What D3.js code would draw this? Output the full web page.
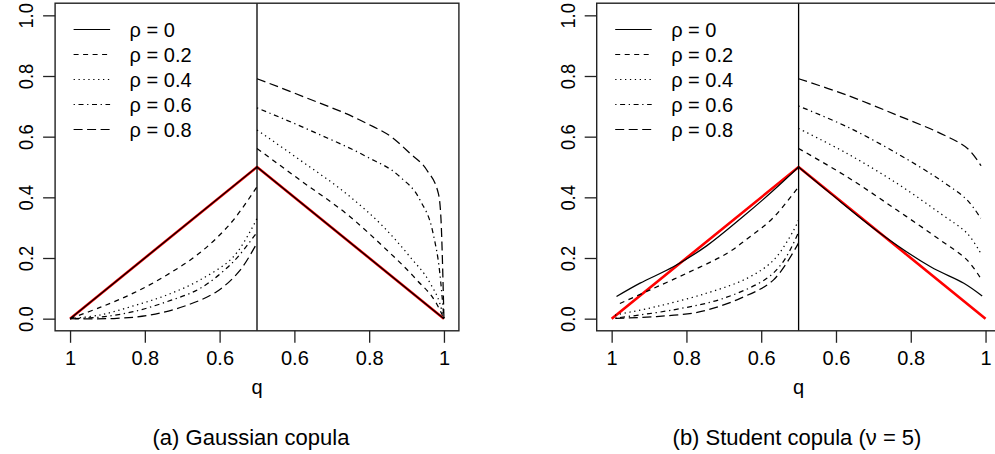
<!DOCTYPE html>
<html>
<head>
<meta charset="utf-8">
<script src="https://cdn.jsdelivr.net/npm/d3@7"></script>
<style>
html,body{margin:0;padding:0;background:#fff;}
svg{display:block;}
text{font-family:"Liberation Sans",Arial,Helvetica,sans-serif;fill:#000;}
</style>
</head>
<body>
<svg id="chart" width="995" height="454"></svg>
<script>
// ---------- data ----------
const rhoLabels = ["ρ = 0", "ρ = 0.2", "ρ = 0.4", "ρ = 0.6", "ρ = 0.8"];
const yTicks = [0, 0.2, 0.4, 0.6, 0.8, 1.0];
const yTickLabels = ["0.0", "0.2", "0.4", "0.6", "0.8", "1.0"];
const xTicks = [0, 0.2, 0.4, 0.6, 0.8, 1.0];
const xTickLabels = ["1", "0.8", "0.6", "0.6", "0.8", "1"];
const captions = ["(a) Gaussian copula", "(b) Student copula (ν = 5)"];

// independence reference (red)
const indep = [[0, 0], [0.5, 0.5], [1, 0]];

// Gaussian copula, left half (position t in [0,0.5])
const gaussL0  = [[0, 0], [0.5, 0.5]];
const gaussL02 = [[0, 0], [0.08, 0.037], [0.169, 0.084], [0.259, 0.144], [0.348, 0.218], [0.43, 0.315], [0.5, 0.435]];
const gaussL04 = [[0, 0], [0.08, 0.012], [0.169, 0.042], [0.259, 0.078], [0.348, 0.128], [0.437, 0.204], [0.5, 0.33]];
const gaussL06 = [[0, 0], [0.08, 0.005], [0.169, 0.023], [0.259, 0.056], [0.348, 0.1], [0.437, 0.188], [0.5, 0.285]];
const gaussL08 = [[0, 0], [0.125, 0.001], [0.214, 0.012], [0.303, 0.04], [0.392, 0.089], [0.455, 0.16], [0.5, 0.25]];
// Gaussian copula, right half (t in [0.5,1])
const gaussR0  = [[0.5, 0.5], [1, 0]];
const gaussR02 = [[0.5, 0.561], [0.615, 0.457], [0.749, 0.336], [0.838, 0.237], [0.927, 0.128], [0.98, 0.05], [1, 0]];
const gaussR04 = [[0.5, 0.622], [0.615, 0.523], [0.749, 0.402], [0.838, 0.303], [0.909, 0.204], [0.963, 0.117], [0.989, 0.05], [1, 0]];
const gaussR06 = [[0.5, 0.695], [0.66, 0.611], [0.793, 0.534], [0.882, 0.468], [0.936, 0.391], [0.971, 0.281], [0.989, 0.15], [1, 0]];
const gaussR08 = [[0.5, 0.791], [0.624, 0.732], [0.793, 0.644], [0.864, 0.595], [0.909, 0.545], [0.954, 0.49], [0.985, 0.413], [0.992, 0.33], [1, 0]];

// Student copula (nu = 5), left half
const studL0  = [[0.013, 0.073], [0.076, 0.117], [0.165, 0.171], [0.254, 0.24], [0.35, 0.335], [0.43, 0.42], [0.5, 0.5]];
const studL02 = [[0.022, 0.05], [0.103, 0.095], [0.21, 0.155], [0.308, 0.215], [0.37, 0.27], [0.43, 0.33], [0.5, 0.435]];
const studL04 = [[0.009, 0.012], [0.12, 0.04], [0.254, 0.084], [0.362, 0.133], [0.433, 0.193], [0.487, 0.292], [0.5, 0.325]];
const studL06 = [[0.01, 0.002], [0.165, 0.029], [0.299, 0.067], [0.415, 0.133], [0.46, 0.19], [0.5, 0.285]];
const studL08 = [[0.01, 0.001], [0.12, 0.007], [0.237, 0.023], [0.344, 0.067], [0.433, 0.128], [0.5, 0.25]];
// Student copula, right half
const studR0  = [[0.5, 0.5], [0.585, 0.413], [0.719, 0.281], [0.853, 0.171], [0.942, 0.117], [0.991, 0.075]];
const studR02 = [[0.5, 0.561], [0.629, 0.468], [0.763, 0.358], [0.879, 0.259], [0.951, 0.193], [0.987, 0.133]];
const studR04 = [[0.5, 0.627], [0.629, 0.545], [0.763, 0.446], [0.879, 0.347], [0.951, 0.281], [0.987, 0.216]];
const studR06 = [[0.5, 0.701], [0.629, 0.633], [0.763, 0.545], [0.879, 0.457], [0.951, 0.391], [0.987, 0.331]];
const studR08 = [[0.5, 0.791], [0.629, 0.737], [0.763, 0.671], [0.879, 0.611], [0.951, 0.562], [0.988, 0.504]];

const gaussSeries = [[gaussL0, gaussR0], [gaussL02, gaussR02], [gaussL04, gaussR04], [gaussL06, gaussR06], [gaussL08, gaussR08]];
const studSeries  = [[studL0, studR0], [studL02, studR02], [studL04, studR04], [studL06, studR06], [studL08, studR08]];

// ---------- styles ----------
const dashes = [null, "5,4.5", "1.3,3.6", "1.3,3.6,5,3.6", "9,4.5"];

const svg = d3.select("#chart");

function drawPanel(left, series, caption, capX, rightCurve) {
  const x = d3.scaleLinear().domain([-0.04, 1.04]).range([left, left + 403.8]);
  const y = d3.scaleLinear().domain([-0.04, 1.04]).range([330.8, 3.2]);
  const g = svg.append("g");
  const smooth = d3.line().x(d => x(d[0])).y(d => y(d[1])).curve(d3.curveCatmullRom.alpha(0.5));
  const mono = d3.line().x(d => x(d[0])).y(d => y(d[1])).curve(d3.curveMonotoneX);
  const lineLin = d3.line().x(d => x(d[0])).y(d => y(d[1]));

  // red independence line
  g.append("path").attr("d", lineLin(indep))
    .attr("fill", "none").attr("stroke", "#ff0000").attr("stroke-width", 2.6)
    .attr("stroke-linejoin", "round");

  series.forEach((pair, i) => {
    pair.forEach((d, k) => {
      let gen = smooth;
      if (d.length === 2) gen = lineLin;
      else if (k === 1 && rightCurve === "mono") gen = mono;
      g.append("path").attr("d", gen(d))
        .attr("fill", "none").attr("stroke", "#000").attr("stroke-width", 1.25)
        .attr("stroke-dasharray", dashes[i]);
    });
  });

  // vertical separator at t = 0.5
  g.append("line").attr("x1", x(0.5)).attr("x2", x(0.5))
    .attr("y1", y.range()[0]).attr("y2", y.range()[1])
    .attr("stroke", "#000").attr("stroke-width", 1.3);

  // frame
  g.append("rect").attr("x", x.range()[0]).attr("y", y.range()[1])
    .attr("width", x.range()[1] - x.range()[0]).attr("height", y.range()[0] - y.range()[1])
    .attr("fill", "none").attr("stroke", "#222").attr("stroke-width", 1.4);

  // x axis
  const xAxis = d3.axisBottom(x).tickValues(xTicks).tickSize(12).tickPadding(8)
    .tickFormat((d, i) => xTickLabels[i]);
  const xa = g.append("g").attr("transform", `translate(0,${y.range()[0]})`).call(xAxis);
  xa.select(".domain").remove();
  xa.selectAll(".tick line").attr("stroke", "#222").attr("stroke-width", 1.3);
  xa.selectAll(".tick text").attr("font-size", 20).attr("font-family", "Liberation Sans, Arial, sans-serif").attr("fill", "#000");

  // y axis
  const yAxis = d3.axisLeft(y).tickValues(yTicks).tickSize(12).tickPadding(0)
    .tickFormat((d, i) => yTickLabels[i]);
  const ya = g.append("g").attr("transform", `translate(${x.range()[0]},0)`).call(yAxis);
  ya.select(".domain").remove();
  ya.selectAll(".tick line").attr("stroke", "#222").attr("stroke-width", 1.3);
  ya.selectAll(".tick text")
    .attr("font-size", 20).attr("font-family", "Liberation Sans, Arial, sans-serif").attr("fill", "#000")
    .attr("x", null).attr("dy", null)
    .attr("text-anchor", "middle")
    .attr("transform", "translate(-22,0) rotate(-90) scale(0.92,1)");

  // axis title
  g.append("text").attr("x", x(0.5)).attr("y", 394).attr("text-anchor", "middle")
    .attr("font-size", 20).text("q");

  // legend
  const lg = g.append("g");
  rhoLabels.forEach((lab, i) => {
    const yy = 29.5 + i * 25;
    lg.append("line").attr("x1", left + 18.5).attr("x2", left + 55)
      .attr("y1", yy).attr("y2", yy).attr("stroke", "#000").attr("stroke-width", 1.2)
      .attr("stroke-dasharray", dashes[i]);
    lg.append("text").attr("x", left + 74.5).attr("y", yy + 7).attr("font-size", 20).text(lab);
  });

  // caption
  svg.append("text").attr("x", capX).attr("y", 445).attr("text-anchor", "middle")
    .attr("font-size", 22).text(caption);
}

drawPanel(55.1, gaussSeries, captions[0], 251, "mono");
drawPanel(596.7, studSeries, captions[1], 797, "smooth");
</script>
</body>
</html>
